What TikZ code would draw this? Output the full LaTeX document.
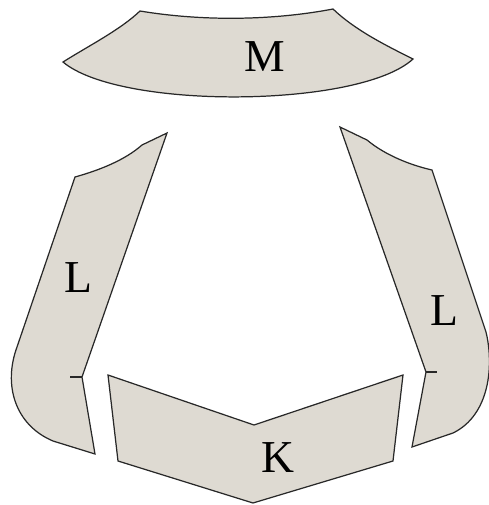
\documentclass[tikz,border=0pt]{standalone}
\usepackage{xcolor}
\usepackage{fontspec}
\setmainfont{Liberation Serif}
\definecolor{myg}{RGB}{222, 218, 210}
\definecolor{myk}{RGB}{40, 40, 40}
\begin{document}
\begin{tikzpicture}[
			x=0.02cm, y=-0.02cm,
			piece/.style={draw=myk, fill=myg, line width=0.7pt, line join=miter},
			tick/.style={draw=myk, line width=0.6pt},
			letter/.style={inner sep=0pt, font=\fontsize{26}{26}\selectfont},
			]
			\useasboundingbox (0,0) rectangle (489,505);
			% top piece
			\draw[piece] (140,11) .. controls (200,21) and (270,21) .. (333,9)
			.. controls (355,30) and (385,45) .. (413,59)
			.. controls (360,108) and (120,110) .. (63,62)
			.. controls (90,45) and (120,30) .. (140,11) -- cycle;
			% left piece
			\draw[piece] (167,133) -- (142,145)
			.. controls (125,160) and (100,170) .. (75,177)
			-- (17,347)
			.. controls (3,385) and (15,425) .. (53,441)
			-- (95,454) -- (82,377) -- cycle;
			\draw[tick] (82,377) -- (70,377);
			% right piece
			\draw[piece] (340,127) -- (367,140)
			.. controls (385,155) and (410,165) .. (432,170)
			-- (486,332)
			.. controls (494,365) and (490,415) .. (453,433)
			-- (412,447) -- (426,372) -- cycle;
			\draw[tick] (426,372) -- (437,372);
			% bottom piece
			\draw[piece] (108,375) -- (254,425) -- (403,375) -- (393,461) -- (253,503) -- (118,461) -- cycle;
			\node[letter] (m) at (265,57) {M};
			\node[letter] (ll) at (78,278) {L};
			\node[letter] (lr) at (444,311) {L};
			\node[letter] (k) at (278,458) {K};
	\end{tikzpicture}
\end{document}
